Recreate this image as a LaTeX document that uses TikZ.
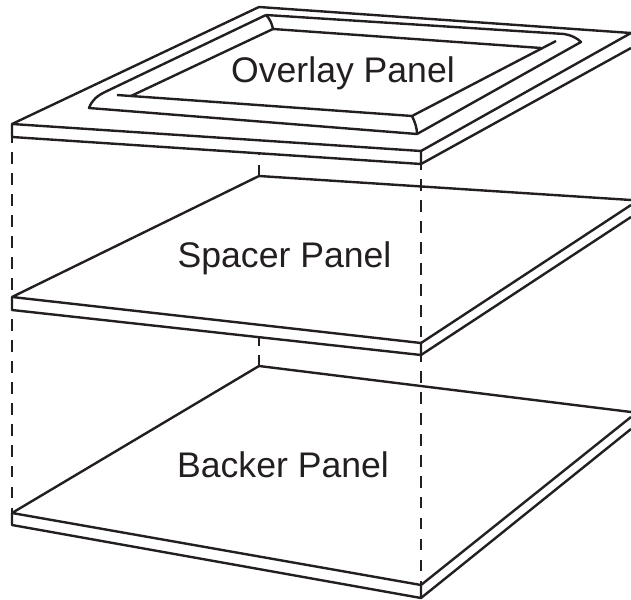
\documentclass[tikz,border=0pt]{standalone}
\usepackage{fontspec}
\setmainfont{Liberation Sans}
\definecolor{inkblack}{HTML}{231F20}
\tikzset{
	edge/.style={draw=inkblack,line width=1.8pt,line join=round,line cap=butt},
	hidden/.style={draw=inkblack,line width=1.7pt,dash pattern=on 8.6pt off 7.1pt},
	panellabel/.style={text=inkblack,font=\fontsize{26.7}{30}\selectfont,anchor=base,inner sep=0pt}
}
\begin{document}
\begin{tikzpicture}[x=0.75pt,y=-0.75pt]
	\useasboundingbox (0,0) rectangle (631,599);
	\clip (0,0) rectangle (631,599);
	% overlay
	\coordinate (ovleft) at (12,124);
	\coordinate (ovback) at (259,7);
	\coordinate (ovright) at (631,33);
	\coordinate (ovfront) at (421,151);
	\coordinate (ovleftb) at (12,137);
	\coordinate (ovfrontb) at (421,164);
	\coordinate (ovrightb) at (631,48);
	\draw[edge] (ovfront) -- (ovleft) -- (ovback) -- (ovright) -- cycle;
	\draw[edge] (ovleft) -- (ovleftb) -- (ovfrontb) -- (ovfront);
	\draw[edge] (ovfrontb) -- (ovrightb);
	% raised border
	\coordinate (bvback) at (266,15);
	\coordinate (bvfront) at (417,134);
	\coordinate (inback) at (273,29);
	\coordinate (infront) at (412,116);
	\draw[edge] (bvback) -- (564,34) .. controls (571,35) and (577,38) .. (581,42) -- (bvfront) -- (89,108) .. controls (92,100) and (97,96) .. (105,92) -- (bvback);
	\draw[edge] (556,41) -- (infront) -- (117,95);
	\draw[edge] (131,96) -- (inback) -- (541,48);
	\draw[edge] (bvback) .. controls (270,19) and (272,24) .. (inback);
	\draw[edge] (infront) .. controls (415,122) and (417,128) .. (bvfront);
	\node[panellabel] (overlay) at (343,83) {Overlay Panel};
	% spacer
	\coordinate (spleft) at (12,297);
	\coordinate (spback) at (259,176);
	\coordinate (spright) at (631,200);
	\coordinate (spfront) at (421,343);
	\coordinate (spleftb) at (12,310);
	\coordinate (spfrontb) at (421,355);
	\draw[edge] (spfront) -- (spleft) -- (spback) -- (spright);
	\draw[edge] (spleft) -- (spleftb) -- (spfrontb) -- (spfront);
	\draw[edge] (spfront) -- (631,205);
	\draw[edge] (spfrontb) -- (631,217);
	\node[panellabel] (spacer) at (284.5,267) {Spacer Panel};
	% backer
	\coordinate (bkleft) at (12,513);
	\coordinate (bkback) at (259,366);
	\coordinate (bkright) at (631,412);
	\coordinate (bkfront) at (421,585);
	\coordinate (bkleftb) at (12,525);
	\coordinate (bkfrontb) at (421,598);
	\draw[edge] (bkfront) -- (bkleft) -- (bkback) -- (bkright);
	\draw[edge] (bkleft) -- (bkleftb) -- (bkfrontb) -- (bkfront);
	\draw[edge] (bkfront) -- (631,417);
	\draw[edge] (bkfrontb) -- (631,429);
	\node[panellabel] (backer) at (283,477) {Backer Panel};
	% hidden edges
	\draw[hidden,dash phase=4.1pt] (ovleftb) -- (spleft);
	\draw[hidden,dash phase=8.6pt] (spleftb) -- (bkleft);
	\draw[hidden,dash phase=4.1pt] (ovfrontb) -- (spfront);
	\draw[hidden,dash phase=3.4pt] (spfrontb) -- (bkfront);
	\draw[hidden,dash phase=7.5pt] (259,154) -- (spback);
	\draw[hidden,dash phase=2.6pt] (259,338) -- (bkback);
\end{tikzpicture}
\end{document}
